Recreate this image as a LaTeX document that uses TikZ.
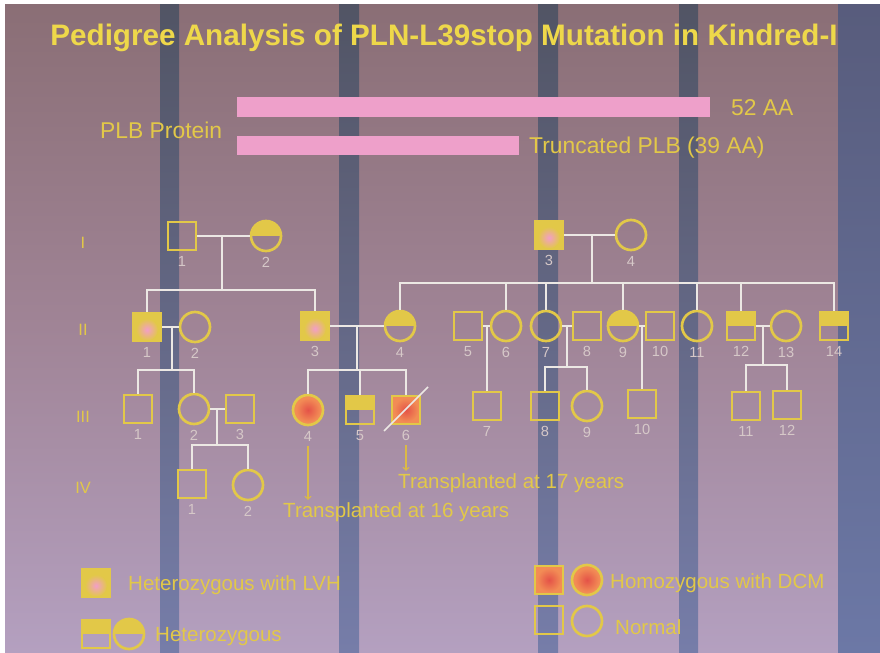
\documentclass[tikz,border=0pt]{standalone}
\usepackage{fontspec}
\setmainfont{Liberation Sans}
\usetikzlibrary{positioning,calc}
\definecolor{bgtop}{RGB}{138,110,117}
\definecolor{bgmid}{RGB}{160,132,150}
\definecolor{bgbot}{RGB}{180,160,192}
\definecolor{stripetop}{RGB}{72,80,98}
\definecolor{stripebot}{RGB}{108,120,166}
\definecolor{pedyellow}{RGB}{226,200,72}
\definecolor{titleyellow}{RGB}{238,216,74}
\definecolor{pedpink}{RGB}{242,158,200}
\definecolor{barpink}{RGB}{238,160,202}
\definecolor{pedorange}{RGB}{242,140,85}
\definecolor{pedred}{RGB}{228,82,72}
\definecolor{linewhite}{RGB}{236,232,228}
\definecolor{numgrey}{RGB}{214,200,200}

\tikzset{
  male/.style={rectangle, draw=pedyellow, line width=0.08cm, minimum size=0.84cm, inner sep=0pt},
  female/.style={circle, draw=pedyellow, line width=0.08cm, minimum size=0.9cm, inner sep=0pt},
  het/.style={path picture={\fill[pedyellow] (path picture bounding box.west) rectangle (path picture bounding box.north east);}},
  lvh/.style={path picture={\fill[pedyellow] (path picture bounding box.south west) rectangle (path picture bounding box.north east);
    \shade[inner color=pedpink, outer color=pedyellow] ([yshift=-0.08cm]path picture bounding box.center) circle (0.33cm);}},
  homo/.style={path picture={\fill[pedorange] (path picture bounding box.south west) rectangle (path picture bounding box.north east);
    \shade[inner color=pedred, outer color=pedorange] (path picture bounding box.center) circle (0.36cm);}},
  lab/.style={text=numgrey, font=\fontsize{12.5}{13}\selectfont, label distance=1pt},
  pline/.style={draw=linewhite, line width=0.075cm},
  txt/.style={text=pedyellow, font=\fontsize{17.5}{20}\selectfont, anchor=west, inner sep=0pt},
  gen/.style={text=pedyellow, font=\fontsize{14}{16}\selectfont},
  tarrow/.style={->, draw=pedyellow!80!brown, line width=0.04cm, shorten >=2pt}
}

\begin{document}
\begin{tikzpicture}[x=0.03cm,y=-0.03cm]
\useasboundingbox (0,0) rectangle (880,653);
\shade[top color=bgtop, bottom color=bgbot, middle color=bgmid] (0,0) rectangle (880,653);
\foreach \xa/\xb in {160/179,339/359,538/558,679/698}
  \shade[top color=stripetop, bottom color=stripebot, opacity=0.85] (\xa,0) rectangle (\xb,653);
\shade[top color=stripetop!85!blue!60!gray, bottom color=stripebot] (838,0) rectangle (880,653);
\fill[white] (0,0) rectangle (880,4);
\fill[white] (0,0) rectangle (5,653);

\node[text=titleyellow, font=\bfseries\fontsize{25.3}{28}\selectfont, anchor=base] (title) at (444,46)
  {Pedigree Analysis of PLN-L39stop Mutation in Kindred-I};

\fill[barpink] (237,97) rectangle (710,117);
\fill[barpink] (237,136) rectangle (519,155);
\node[txt, font=\fontsize{19.5}{22}\selectfont] (full) at (731,108) {52 AA};
\node[txt, font=\fontsize{19.5}{22}\selectfont] (plb) at (100,130) {PLB Protein};
\node[txt, font=\fontsize{19.5}{22}\selectfont] (trunc) at (529,148) {Truncated PLB (39 AA)};

\node[gen] (gI) at (83,243) {I};
\node[gen] (gII) at (83,330) {II};
\node[gen] (gIII) at (83,417) {III};
\node[gen] (gIV) at (83,488) {IV};

% generation I
\node[male, label={[lab]below:1}] (I1) at (182,236) {};
\node[female, het, label={[lab]below:2}] (I2) at (266,236) {};
\node[male, lvh, label={[lab]below:3}] (I3) at (549,235) {};
\node[female, label={[lab]below:4}] (I4) at (631,235) {};

% generation II
\node[male, lvh, label={[lab]below:1}] (II1) at (147,327) {};
\node[female, label={[lab]below:2}] (II2) at (195,327) {};
\node[male, lvh, label={[lab]below:3}] (II3) at (315,326) {};
\node[female, het, label={[lab]below:4}] (II4) at (400,326) {};
\node[male, label={[lab]below:5}] (II5) at (468,326) {};
\node[female, label={[lab]below:6}] (II6) at (506,326) {};
\node[female, label={[lab]below:7}] (II7) at (546,326) {};
\node[male, label={[lab]below:8}] (II8) at (587,326) {};
\node[female, het, label={[lab]below:9}] (II9) at (623,326) {};
\node[male, label={[lab]below:10}] (II10) at (660,326) {};
\node[female, label={[lab]below:11}] (II11) at (697,326) {};
\node[male, het, label={[lab]below:12}] (II12) at (741,326) {};
\node[female, label={[lab]below:13}] (II13) at (786,326) {};
\node[male, het, label={[lab]below:14}] (II14) at (834,326) {};

% generation III
\node[male, label={[lab]below:1}] (III1) at (138,409) {};
\node[female, label={[lab]below:2}] (III2) at (194,409) {};
\node[male, label={[lab]below:3}] (III3) at (240,409) {};
\node[female, homo, label={[lab,name=l34]below:4}] (III4) at (308,410) {};
\node[male, het, label={[lab]below:5}] (III5) at (360,410) {};
\node[male, homo, label={[lab,name=l36]below:6}] (III6) at (406,410) {};
\node[male, label={[lab]below:7}] (III7) at (487,406) {};
\node[male, label={[lab]below:8}] (III8) at (545,406) {};
\node[female, label={[lab]below:9}] (III9) at (587,406) {};
\node[male, label={[lab]below:10}] (III10) at (642,404) {};
\node[male, label={[lab]below:11}] (III11) at (746,406) {};
\node[male, label={[lab]below:12}] (III12) at (787,405) {};

% generation IV
\node[male, label={[lab]below:1}] (IV1) at (192,484) {};
\node[female, label={[lab]below:2}] (IV2) at (248,485) {};

\coordinate (m1) at (222,236);  \coordinate (s1) at (222,290);
\coordinate (m2) at (592,235);  \coordinate (s2) at (592,283);
\coordinate (m3) at (172,327);  \coordinate (s3) at (172,370);
\coordinate (m4) at (357,326);  \coordinate (s4) at (357,370);
\coordinate (m5) at (487,326);
\coordinate (m6) at (567,326);  \coordinate (s6) at (567,367);
\coordinate (m7) at (642,326);
\coordinate (m8) at (763,326);  \coordinate (s8) at (763,365);
\coordinate (m9) at (217,409);  \coordinate (s9) at (217,445);

\draw[pline] (I1) -- (I2);
\draw[pline] (I3) -- (I4);
\draw[pline] (m1) -- (s1) -| (II1);
\draw[pline] (s1) -| (II3);
\draw[pline] (m2) -- (s2);
\foreach \c in {II4,II6,II7,II9,II11,II12,II14}
  \draw[pline] (s2) -| (\c);

\draw[pline] (II1) -- (II2);
\draw[pline] (II3) -- (II4);
\draw[pline] (II5) -- (II6);
\draw[pline] (II7) -- (II8);
\draw[pline] (II9) -- (II10);
\draw[pline] (II12) -- (II13);
\draw[pline] (III2) -- (III3);

\draw[pline] (m3) -- (s3) -| (III1);
\draw[pline] (s3) -| (III2);
\draw[pline] (m4) -- (s4);
\foreach \c in {III4,III5,III6}
  \draw[pline] (s4) -| (\c);
\draw[pline] (m5) -- (III7);
\draw[pline] (m6) -- (s6) -| (III8);
\draw[pline] (s6) -| (III9);
\draw[pline] (m7) -- (III10);
\draw[pline] (m8) -- (s8) -| (III11);
\draw[pline] (s8) -| (III12);
\draw[pline] (m9) -- (s9) -| (IV1);
\draw[pline] (s9) -| (IV2);

\draw[linewhite, line width=0.05cm] (III6.center) ++(-22,21) -- ++(44,-44);

\node[txt] (t17) at (398,483) {Transplanted at 17 years};
\node[txt] (t16) at (283,512) {Transplanted at 16 years};
\draw[tarrow] (l34) -- (l34 |- t16.north);
\draw[tarrow] (l36) -- (l36 |- t17.north);

% legend
\node[male, lvh] (k1) at (96,583) {};
\node[txt] (k1t) at (128,585) {Heterozygous with LVH};
\node[male, het] (k2a) at (96,634) {};
\node[female, het] (k2b) at (129,634) {};
\node[txt] (k2t) at (155,637) {Heterozygous};
\node[male, homo] (k3a) at (549,580) {};
\node[female, homo] (k3b) at (587,580) {};
\node[txt] (k3t) at (610,583) {Homozygous with DCM};
\node[male] (k4a) at (549,620) {};
\node[female] (k4b) at (587,621) {};
\node[txt] (k4t) at (615,627) {Normal};
\end{tikzpicture}
\end{document}
